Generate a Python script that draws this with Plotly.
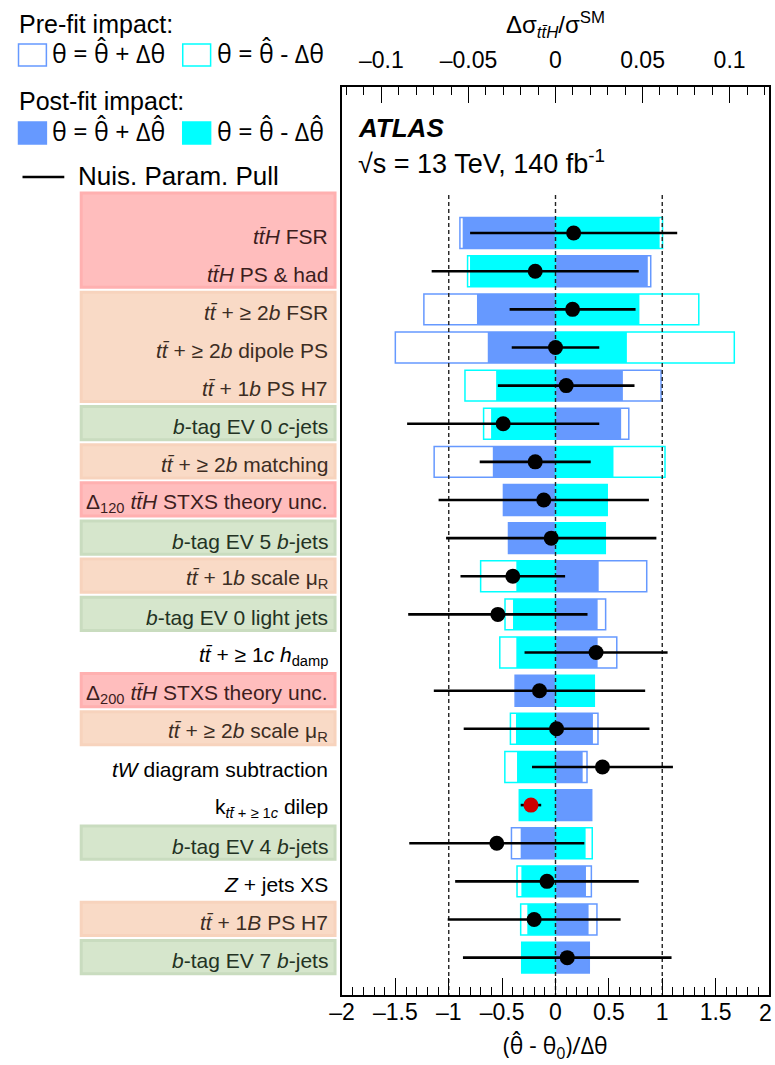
import plotly.graph_objects as go

# ---------------------------------------------------------------- data
labels = [
    "<i>tt̄H</i> FSR",
    "<i>tt̄H</i> PS & had",
    "<i>tt̄</i> + ≥ 2<i>b</i> FSR",
    "<i>tt̄</i> + ≥ 2<i>b</i> dipole PS",
    "<i>tt̄</i> + 1<i>b</i> PS H7",
    "<i>b</i>-tag EV 0 <i>c</i>-jets",
    "<i>tt̄</i> + ≥ 2<i>b</i> matching",
    "Δ<sub>120</sub> <i>tt̄H</i> STXS theory unc.",
    "<i>b</i>-tag EV 5 <i>b</i>-jets",
    "<i>tt̄</i> + 1<i>b</i> scale μ<sub>R</sub>",
    "<i>b</i>-tag EV 0 light jets",
    "<i>tt̄</i> + ≥ 1<i>c</i> <i>h</i><sub>damp</sub>",
    "Δ<sub>200</sub> <i>tt̄H</i> STXS theory unc.",
    "<i>tt̄</i> + ≥ 2<i>b</i> scale μ<sub>R</sub>",
    "<i>tW</i> diagram subtraction",
    "k<sub><i>tt̄</i> + ≥ 1<i>c</i></sub> dilep",
    "<i>b</i>-tag EV 4 <i>b</i>-jets",
    "<i>Z</i> + jets XS",
    "<i>tt̄</i> + 1<i>B</i> PS H7",
    "<i>b</i>-tag EV 7 <i>b</i>-jets",
]

# systematic group of each parameter (label background colour)
groups = ["ttH", "ttH", "tt", "tt", "tt", "btag", "tt", "ttH", "btag", "tt",
          "btag", "", "ttH", "tt", "", "", "btag", "", "tt", "btag"]

# impact on the signal strength (delta sigma / sigma_SM)
post_up = [-0.0533, 0.0530, -0.0451, -0.0389, 0.0387, 0.0377, -0.0360, -0.0299, -0.0270, 0.0248,
           0.0242, 0.0242, -0.0232, 0.0215, 0.0156, 0.0208, -0.0200, 0.0175, 0.0190, 0.0194]
post_dn = [0.0598, -0.0491, 0.0482, 0.0410, -0.0341, -0.0370, 0.0333, 0.0297, 0.0286, -0.0225,
           -0.0244, -0.0225, 0.0223, -0.0227, -0.0221, -0.0208, 0.0173, -0.0196, -0.0162, -0.0194]
pre_up = [-0.0549, 0.0547, -0.0756, -0.0920, 0.0606, 0.0421, -0.0697, -0.0299, -0.0270, 0.0524,
          0.0288, 0.0352, -0.0232, 0.0244, 0.0181, 0.0208, -0.0253, 0.0206, 0.0238, 0.0194]
pre_dn = [0.0615, -0.0505, 0.0823, 0.1027, -0.0520, -0.0413, 0.0629, 0.0297, 0.0286, -0.0430,
          -0.0290, -0.0320, 0.0223, -0.0259, -0.0291, -0.0208, 0.0211, -0.0221, -0.0200, -0.0194]

# nuisance parameter pulls and constraints
pull = [0.17, -0.19, 0.16, 0.00, 0.10, -0.49, -0.19, -0.11, -0.04, -0.40,
        -0.54, 0.38, -0.15, 0.01, 0.44, -0.23, -0.55, -0.08, -0.20, 0.11]
pull_err = [0.97, 0.97, 0.59, 0.41, 0.64, 0.90, 0.52, 0.985, 0.985, 0.49,
            0.84, 0.67, 0.99, 0.87, 0.66, 0.096, 0.82, 0.86, 0.81, 0.977]
# free-floating normalisation factors are drawn in red
is_norm = [False] * 15 + [True] + [False] * 4

impact_ticks = [-0.1, -0.05, 0, 0.05, 0.1]
impact_ticktext = ["–0.1", "–0.05", "0", "0.05", "0.1"]
pull_ticks = [-2, -1.5, -1, -0.5, 0, 0.5, 1, 1.5, 2]
pull_ticktext = ["–2", "–1.5", "–1", "–0.5", "0", "0.5", "1", "1.5", ""]

# ---------------------------------------------------------------- style
W, H = 775, 1065
PL, PR, PT, PB = 342, 771, 87, 995
FONT = "Liberation Sans, Arial, Helvetica, sans-serif"
MATH = "Open Sans, DejaVu Sans, sans-serif"
BLUE = "#6699ff"
CYAN = "#00ffff"
IMP_RANGE = 0.12263
Y_RANGE = [19.98, -3.83]

box_fill = {"ttH": "#ffbdbd", "tt": "#f9dac6", "btag": "#d6e6cc"}
box_line = {"ttH": "#ffb0b0", "tt": "#f7d3bd", "btag": "#c9dcbf"}
text_col = {"ttH": "#3c1d1d", "tt": "#3c2d23", "btag": "#233223", "": "#000000"}


def px(x):
    return (x - PL) / (PR - PL)


def py(y):
    return (PB - y) / (PB - PT)


rows = list(range(len(labels)))
fig = go.Figure()

# post-fit impacts (filled)
fig.add_trace(go.Bar(x=post_up, y=rows, orientation="h", width=0.81, base=0,
                     marker=dict(color=BLUE, line=dict(width=0)), xaxis="x", yaxis="y"))
fig.add_trace(go.Bar(x=post_dn, y=rows, orientation="h", width=0.81, base=0,
                     marker=dict(color=CYAN, line=dict(width=0)), xaxis="x", yaxis="y"))
# pre-fit impacts (outlines)
fig.add_trace(go.Bar(x=pre_up, y=rows, orientation="h", width=0.81, base=0,
                     marker=dict(color="rgba(0,0,0,0)", line=dict(color=BLUE, width=1.5)),
                     xaxis="x", yaxis="y"))
fig.add_trace(go.Bar(x=pre_dn, y=rows, orientation="h", width=0.81, base=0,
                     marker=dict(color="rgba(0,0,0,0)", line=dict(color=CYAN, width=1.5)),
                     xaxis="x", yaxis="y"))

# reference lines at 0 and +-1 sigma
vx, vy = [], []
for v in (-1, 0, 1):
    vx += [v, v, None]
    vy += [-1.0, Y_RANGE[0], None]
fig.add_trace(go.Scatter(x=vx, y=vy, mode="lines", xaxis="x2", yaxis="y",
                         line=dict(color="#222222", width=1.4, dash="4px,3px")))

# pulls
fig.add_trace(go.Scatter(
    x=pull, y=rows, mode="markers", xaxis="x2", yaxis="y",
    marker=dict(size=15, color=["#cc0000" if n else "black" for n in is_norm]),
    error_x=dict(type="data", array=pull_err, color="black", thickness=2.6, width=0),
))

# label backgrounds: contiguous runs of the same group
shapes = []
runs = []
start = 0
for i in range(1, len(groups) + 1):
    if i == len(groups) or groups[i] != groups[start]:
        if groups[start]:
            runs.append((start, i - 1, groups[start]))
        start = i
for k, (a, b, g) in enumerate(runs):
    y0 = a - 0.45 if k else -1.05
    y1 = b + 0.42
    shapes.append(dict(type="rect", xref="paper", yref="y", x0=px(80), x1=px(335),
                       y0=y0, y1=y1, fillcolor=box_fill[g],
                       line=dict(color=box_line[g], width=3), layer="below"))

annotations = []
for i, lab in enumerate(labels):
    annotations.append(dict(text=lab, xref="paper", yref="y", x=px(330), y=i,
                            xanchor="right", yanchor="middle", yshift=-3, showarrow=False,
                            font=dict(family=FONT, size=21, color=text_col[groups[i]])))

# legend block
def legend_box(x0, y0, fill, line):
    shapes.append(dict(type="rect", xref="paper", yref="paper", x0=px(x0), x1=px(x0 + 28),
                       y0=py(y0 + 22), y1=py(y0), fillcolor=fill,
                       line=dict(color=line, width=1.5)))


def text(t, x, y, size, anchor="left", family=FONT, color="black"):
    annotations.append(dict(text=t, xref="paper", yref="paper", x=px(x), y=py(y),
                            xanchor=anchor, yanchor="middle", showarrow=False,
                            font=dict(family=family, size=size, color=color)))


text("Pre-fit impact:", 15, 24, 25)
legend_box(17, 44, "white", BLUE)
legend_box(182, 44, "white", CYAN)
text("θ = θ̂ + Δθ", 49, 53, 25, family=MATH)
text("θ = θ̂ - Δθ", 214, 53, 25, family=MATH)
text("Post-fit impact:", 15, 101, 25)
legend_box(17, 122, BLUE, BLUE)
legend_box(182, 122, CYAN, CYAN)
text("θ = θ̂ + Δθ̂", 49, 131, 25, family=MATH)
text("θ = θ̂ - Δθ̂", 214, 131, 25, family=MATH)
shapes.append(dict(type="line", xref="paper", yref="paper", x0=px(21), x1=px(63),
                   y0=py(177), y1=py(177), line=dict(color="black", width=2.5)))
text("Nuis. Param. Pull", 75, 176, 26)

text("<b><i>ATLAS</i></b>", 356, 128, 26)
text("√s = 13 TeV, 140 fb<sup>-1</sup>", 356, 162, 27)
text("Δσ<sub><i>tt̄H</i></sub>/σ<sup>SM</sup>", 556, 25, 24, anchor="center")
text("(θ̂ - θ<sub>0</sub>)/Δθ", 556, 1046, 23, anchor="center", family=MATH)
# last bottom tick label, right-aligned so it stays inside the page
text("2", 776, 1013, 23, anchor="right")

axis_common = dict(showgrid=False, zeroline=False, showline=True, linecolor="black",
                   linewidth=1.5, ticks="inside", tickcolor="black", tickwidth=1,
                   tickfont=dict(family=FONT, size=23, color="black"))

fig.update_layout(
    width=W, height=H,
    margin=dict(l=PL, r=W - PR, t=PT, b=H - PB, pad=0),
    paper_bgcolor="white", plot_bgcolor="white",
    barmode="overlay", showlegend=False,
    xaxis=dict(range=[-IMP_RANGE, IMP_RANGE], side="top", mirror=True,
               tickmode="array", tickvals=impact_ticks, ticktext=impact_ticktext,
               ticklen=16, ticklabelstandoff=8,
               minor=dict(dtick=0.01, tick0=0, ticklen=8, ticks="inside",
                          tickcolor="black", showgrid=False),
               **axis_common),
    xaxis2=dict(range=[-2, 2], side="bottom", overlaying="x", anchor="y",
                tickmode="array", tickvals=pull_ticks, ticktext=pull_ticktext,
                ticklen=17, ticklabelstandoff=-4,
                minor=dict(dtick=0.1, tick0=0, ticklen=8, ticks="inside",
                           tickcolor="black", showgrid=False),
                **axis_common),
    yaxis=dict(range=Y_RANGE, showticklabels=False, ticks="", showgrid=False,
               zeroline=False, showline=True, mirror=True, linecolor="black", linewidth=1.5),
    shapes=shapes,
    annotations=annotations,
)

fig.write_html("out.html")
